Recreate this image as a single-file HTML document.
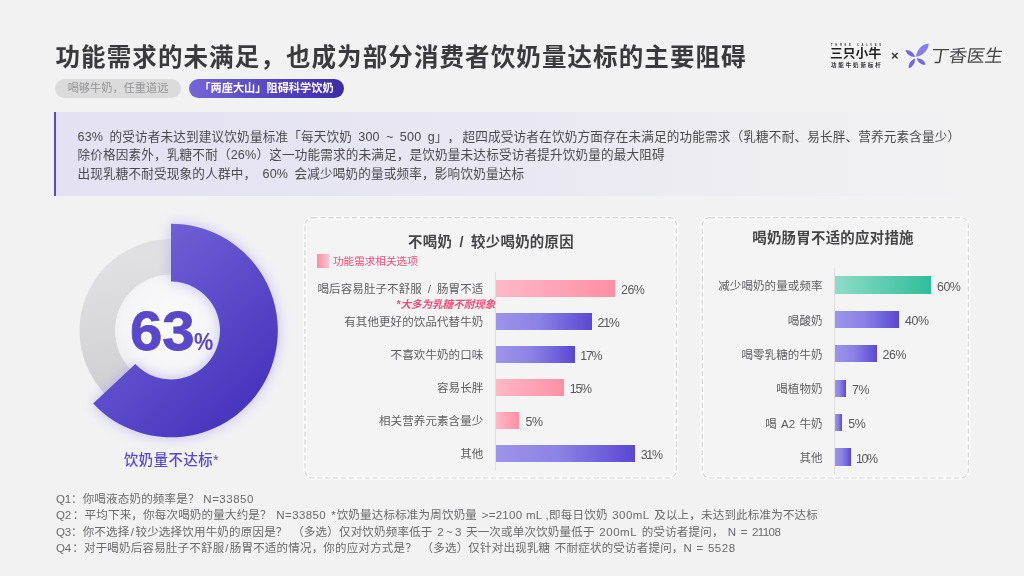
<!DOCTYPE html>
<html lang="zh-CN">
<head>
<meta charset="utf-8">
<title>功能需求的未满足，也成为部分消费者饮奶量达标的主要阻碍</title>
<style>
*{margin:0;padding:0;box-sizing:border-box}
html,body{width:1024px;height:576px;overflow:hidden}
body{will-change:transform;text-spacing-trim:space-all;background:#f2f2f3;font-family:"Liberation Sans","Noto Sans CJK SC",sans-serif;color:#555;position:relative}
.abs{position:absolute;white-space:nowrap}
#title{left:55.5px;top:40px;font-size:24.5px;line-height:36px;font-weight:700;color:#3a3a3c;letter-spacing:1.1px}
.pill{top:79px;height:18.5px;border-radius:10px;font-size:11.2px;line-height:18px;text-align:center}
#pill1{left:55px;width:126px;background:#dbdbdc;color:#929294}
#pill2{left:189px;width:155px;background:linear-gradient(90deg,#7465d8 0%,#3d2aa8 100%);color:#fff;font-weight:700}
#sum{left:54px;top:112px;width:916px;height:83.5px;background:linear-gradient(90deg,#e3e1f3 0%,#e8e7f2 45%,#f2f2f3 100%)}
#sum:before{content:"";position:absolute;left:.2px;top:0;bottom:0;width:2.3px;background:#5b49c6}
#sumtext{left:77.5px;top:127.5px;font-size:12.6px;line-height:18.8px;color:#4a4a4c;letter-spacing:.17px;word-spacing:2.6px}
.ptitle{font-weight:700;font-size:14.4px;color:#454547;line-height:20px;text-align:center;letter-spacing:.3px;word-spacing:3px}
.axis{width:1px;background:#dfdfe1}
.lbl{font-size:11.5px;letter-spacing:.1px;word-spacing:2.6px;color:#5e5e60;line-height:16px;text-align:right}
.bar{height:17px}
.pk{background:linear-gradient(90deg,#ffb8c7 0%,#ff8fa5 100%)}
.pu{background:linear-gradient(90deg,#9d94ea 0%,#8c81e5 45%,#5a48d3 100%)}
.gr{background:linear-gradient(90deg,#8fdcc6 0%,#2fbd9b 100%)}
.pct{font-size:12.4px;color:#58585a;line-height:16px;letter-spacing:-.4px}.n1{letter-spacing:-1.3px;margin-left:-.8px}
#foot{left:56px;top:490.6px;font-size:11.5px;line-height:16.6px;color:#6a6a6c;letter-spacing:.2px;word-spacing:1.2px}#foot b{font-weight:400;word-spacing:0}#foot .q{letter-spacing:-.2px}
</style>
</head>
<body>
<div id="title" class="abs">功能需求的未满足，也成为部分消费者饮奶量达标的主要阻碍</div>
<div class="abs" style="left:830.7px;top:42.8px;font-size:5.4px;line-height:6px;font-weight:700;color:#333;letter-spacing:5.36px;transform-origin:0 0;transform:scale(.5)">THREE CALVES</div>
<div class="abs" style="left:830.2px;top:47px;font-size:12.5px;line-height:15px;font-weight:700;color:#1e1e20;letter-spacing:.1px;transform-origin:0 0;transform:scaleX(1.016)">三只小牛</div>
<div class="abs" style="left:830.7px;top:61.4px;font-size:11px;line-height:15px;font-weight:700;color:#2a2a2c;letter-spacing:3.75px;transform-origin:0 0;transform:scale(.5)">功能牛奶新标杆</div>
<div class="abs" style="left:891px;top:48.1px;font-size:13px;line-height:16px;font-weight:700;color:#333">×</div>
<svg class="abs" style="left:900px;top:36px" width="36" height="40" viewBox="900 36 36 40"><path d="M916.0 56.8C922.7 56.1 928.7 49.9 928.7 43.5C922.3 43.8 916.4 50.0 916.0 56.8Z" fill="#877cec"/><g fill="#7569e2"><path d="M915.0 57.0C914.0 52.8 909.6 49.5 905.6 50.0C906.3 54.0 910.7 57.3 915.0 57.0Z"/><path d="M914.9 58.4C910.8 59.7 908.0 64.3 908.8 68.2C912.7 67.2 915.6 62.6 914.9 58.4Z"/><path d="M916.8 58.4C917.7 62.3 921.8 65.3 925.6 64.8C925.0 61.0 920.8 58.0 916.8 58.4Z"/></g></svg>
<div class="abs" style="left:929.2px;top:43.6px;font-size:17.5px;line-height:24px;font-weight:400;color:#454547;letter-spacing:0;transform-origin:0 100%;transform:skewX(-9deg) scaleX(1.03)">丁香医生</div>
<div id="pill1" class="abs pill">喝够牛奶，任重道远</div>
<div id="pill2" class="abs pill">「两座大山」阻碍科学饮奶</div>

<div id="sum" class="abs"></div>
<div id="sumtext" class="abs">63% 的受访者未达到建议饮奶量标准「每天饮奶 300 ~ 500 g」，<span style="margin-left:2.2px">超</span>四成受访者在饮奶方面存在未满足的功能需求（乳糖不耐、易长胖、营养元素含量少）<br>除价格因素外，乳糖不耐（26%）这一功能需求的未满足，是饮奶量未达标受访者提升饮奶量的最大阻碍<br>出现乳糖不耐受现象的人群中， 60% 会减少喝奶的量或频率，影响饮奶量达标</div>

<svg class="abs" style="left:40px;top:200px" width="270" height="260" viewBox="40 200 270 260">
<defs>
<linearGradient id="gpu" x1="0.15" y1="0.1" x2="0.85" y2="0.95"><stop offset="0" stop-color="#7264d7"/><stop offset="1" stop-color="#4531bc"/></linearGradient>
<linearGradient id="ggr" x1="0.3" y1="0" x2="0.5" y2="1"><stop offset="0" stop-color="#e0e0e2"/><stop offset="1" stop-color="#cdcdd0"/></linearGradient>
<radialGradient id="gin" cx="0.5" cy="0.45" r="0.55"><stop offset="0" stop-color="#fbfbfc"/><stop offset=".75" stop-color="#f5f5f7"/><stop offset="1" stop-color="#ededf0"/></radialGradient>
<filter id="glow" x="-25%" y="-25%" width="150%" height="150%"><feGaussianBlur stdDeviation="6.5"/></filter>
</defs>
<circle cx="171" cy="330.5" r="73.5" fill="none" stroke="url(#ggr)" stroke-width="36"/>
<circle cx="171" cy="330.5" r="56" fill="url(#gin)"/>
<path d="M171 223.7A106.8 106.8 0 1 1 93.14 403.6L135.28 364.04A49 49 0 1 0 171 281.5Z" fill="#a598f2" opacity=".6" filter="url(#glow)"/>
<path d="M171 223.7A106.8 106.8 0 1 1 93.14 403.6L135.28 364.04A49 49 0 1 0 171 281.5Z" fill="url(#gpu)"/>
</svg>
<div class="abs" style="left:129.5px;top:300.7px;font-size:55.4px;line-height:60px;font-weight:700;color:#5a47c9;transform-origin:0 0;transform:scaleX(1.05);letter-spacing:-.2px;-webkit-text-stroke:.8px #5a47c9">63</div>
<div class="abs" style="left:193.5px;top:324px;font-size:23.8px;line-height:36px;font-weight:700;color:#5a47c9;transform-origin:0 0;transform:scaleX(.91)">%</div>
<div class="abs" style="left:124px;top:450.3px;font-size:14.3px;line-height:20px;letter-spacing:.55px;color:#5a47c9;font-weight:500">饮奶量不达标*</div>
<svg class="abs" style="left:296px;top:208px" width="690" height="280" viewBox="296 208 690 280">
<g fill="#f4f4f5" stroke="#ffffff" stroke-opacity=".75" stroke-width="3.4"><rect x="305" y="217.6" width="371.4" height="260.4" rx="7.5"/><rect x="702.3" y="217.6" width="266" height="260.4" rx="7.5"/></g>
<g fill="none" stroke="#d2d2d5" stroke-width="1.15" stroke-dasharray="5.2 2.7"><rect x="305" y="217.6" width="371.4" height="260.4" rx="7.5"/><rect x="702.3" y="217.6" width="266" height="260.4" rx="7.5"/></g>
</svg>
<div class="abs ptitle" style="left:305px;width:372px;top:231.5px">不喝奶 / 较少喝奶的原因</div>
<div class="abs ptitle" style="left:702px;width:262px;top:228px">喝奶肠胃不适的应对措施</div>
<div class="abs" style="left:316.5px;top:254.3px;width:12.5px;height:13.4px;background:linear-gradient(90deg,#f88fa6,#fcc3ce)"></div>
<div class="abs" style="left:333px;top:253px;font-size:10.6px;line-height:16px;color:#ee4f78">功能需求相关选项</div>
<div class="abs axis" style="left:495px;top:272px;height:198px"></div>
<div class="abs axis" style="left:834px;top:268px;height:206px"></div>
<div class="abs" style="left:396.3px;top:297.2px;font-size:10.55px;line-height:15px;color:#ee4f78;font-weight:700;font-style:italic">*大多为乳糖不耐现象</div>
<!--ROWS-->
<div class="abs lbl" style="right:540.6px;top:280.9px">喝后容易肚子不舒服 / 肠胃不适</div>
<div class="abs bar pk" style="left:496px;top:280px;width:118.6px"></div>
<div class="abs pct" style="left:620.9px;top:282.1px">26%</div>
<div class="abs lbl" style="right:540.6px;top:313.9px">有其他更好的饮品代替牛奶</div>
<div class="abs bar pu" style="left:496px;top:313px;width:96.1px"></div>
<div class="abs pct n1" style="left:598.4px;top:315.1px">21%</div>
<div class="abs lbl" style="right:540.6px;top:346.9px">不喜欢牛奶的口味</div>
<div class="abs bar pu" style="left:496px;top:346px;width:78.8px"></div>
<div class="abs pct n1" style="left:581.1px;top:348.1px">17%</div>
<div class="abs lbl" style="right:540.6px;top:379.9px">容易长胖</div>
<div class="abs bar pk" style="left:496px;top:379px;width:68.3px"></div>
<div class="abs pct n1" style="left:570.6px;top:381.1px">15%</div>
<div class="abs lbl" style="right:540.6px;top:412.9px">相关营养元素含量少</div>
<div class="abs bar pk" style="left:496px;top:412px;width:23.2px"></div>
<div class="abs pct" style="left:525.5px;top:414.1px">5%</div>
<div class="abs lbl" style="right:540.6px;top:445.9px">其他</div>
<div class="abs bar pu" style="left:496px;top:445px;width:139.2px"></div>
<div class="abs pct n1" style="left:641.5px;top:447.1px">31%</div>
<div class="abs lbl" style="right:201.4px;top:278.1px">减少喝奶的量或频率</div>
<div class="abs bar gr" style="left:834.9px;top:276.2px;width:96.2px;height:17.4px"></div>
<div class="abs pct" style="left:936.9px;top:278.5px">60%</div>
<div class="abs lbl" style="right:201.4px;top:312.5px">喝酸奶</div>
<div class="abs bar pu" style="left:834.9px;top:310.6px;width:64.3px;height:17.4px"></div>
<div class="abs pct" style="left:905.0px;top:312.9px">40%</div>
<div class="abs lbl" style="right:201.4px;top:347.0px">喝零乳糖的牛奶</div>
<div class="abs bar pu" style="left:834.9px;top:345.1px;width:41.8px;height:17.4px"></div>
<div class="abs pct" style="left:882.5px;top:347.4px">26%</div>
<div class="abs lbl" style="right:201.4px;top:381.4px">喝植物奶</div>
<div class="abs bar pu" style="left:834.9px;top:379.5px;width:11.3px;height:17.4px"></div>
<div class="abs pct" style="left:852.0px;top:381.8px">7%</div>
<div class="abs lbl" style="right:201.4px;top:415.9px;word-spacing:.8px">喝 A2 牛奶</div>
<div class="abs bar pu" style="left:834.9px;top:414.0px;width:7.6px;height:17.4px"></div>
<div class="abs pct" style="left:848.3px;top:416.3px">5%</div>
<div class="abs lbl" style="right:201.4px;top:450.3px">其他</div>
<div class="abs bar pu" style="left:834.9px;top:448.4px;width:16.0px;height:17.4px"></div>
<div class="abs pct n1" style="left:856.7px;top:450.7px">10%</div>

<div id="foot" class="abs"><b class="q">Q1</b>：你喝液态奶的频率是？<b style="letter-spacing:.5px"> N=33850</b><br><b class="q" style="margin-right:1.9px">Q2</b>：平均下来，你每次喝奶的量大约是？ <b style="letter-spacing:.4px">N=33850</b> <b style="margin:0 .8px 0 .4px">*</b>饮奶量达标标准为周饮奶量 <b style="letter-spacing:.3px">&gt;=2100 mL ,</b>即每日饮奶 <b style="letter-spacing:.45px">300mL</b> 及以上，未达到此标准为不达标<br><b class="q">Q3</b>：你不选择<b style="margin:0 1.3px">/</b>较少选择饮用牛奶的原因是？ （多选）仅对饮奶频率低于 <b style="letter-spacing:-.1px;word-spacing:-.6px">2 ~ 3</b> 天一次或单次饮奶量低于 <b style="letter-spacing:.55px">200mL</b> 的受访者提问， <b style="letter-spacing:0;word-spacing:1.4px;margin-left:-.4px">N = <b style="letter-spacing:-.6px">21108</b></b><br><b class="q" style="margin-right:1.3px">Q4</b>：对于喝奶后容易肚子不舒服<b style="margin:0 1px">/</b>肠胃不适的情况，你的应对方式是？ （多选）仅针对出现乳糖 不耐症状的受访者提问，<b style="letter-spacing:.5px;word-spacing:.5px">N = 5528</b></div>
</body>
</html>
